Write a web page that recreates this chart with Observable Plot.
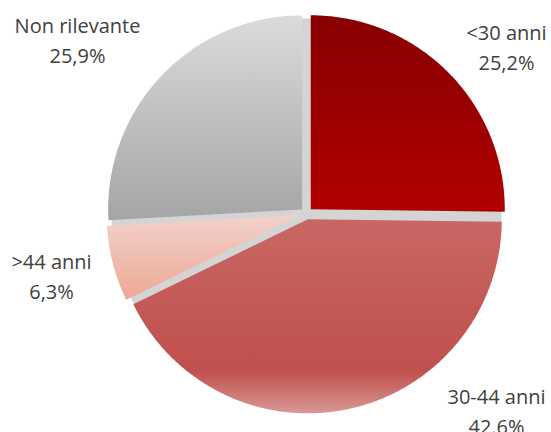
<!DOCTYPE html>
<html>
<head>
<meta charset="utf-8">
<script src="https://cdn.jsdelivr.net/npm/d3@7"></script>
<script src="https://cdn.jsdelivr.net/npm/@observablehq/plot@0.6"></script>
<style>
  html, body { margin: 0; padding: 0; background: #fff; overflow: hidden; }
</style>
</head>
<body>
<div id="chart"></div>
<script>
// ---- data ----
const categories = ["<30 anni", "30-44 anni", ">44 anni", "Non rilevante"];
const values = [25.2, 42.6, 6.3, 25.9];
const valueLabels = ["25,2%", "42.6%", "6,3%", "25,9%"];

// ---- layout / style ----
const W = 551, H = 432;
const cx = 306, cy = 213, R = 194;
const explode = 6 / R;
const fontSize = 20;
const lineGap = 30;
// label anchor points (pixel: center x, baseline of first line)
const labelPos = [[506, 39], [496, 403], [51, 268], [77, 32]];
const gradients = [
  [[0, "#870000"], [1, "#b20000"]],
  [[0, "#c96764"], [0.78, "#bf504d"], [1, "#da9896"]],
  [[0, "#f2d1cc"], [1, "#eda893"]],
  [[0, "#dbdbdb"], [1, "#a5a5a5"]]
];

const arcs = d3.pie().sort(null).startAngle(0).endAngle(2 * Math.PI)(values);

const slicePoints = arcs.map((a, i) => {
  const m = (a.startAngle + a.endAngle) / 2;
  const ox = explode * Math.sin(m), oy = explode * Math.cos(m);
  const pts = [{x: ox, y: oy, s: i}];
  const n = Math.max(8, Math.ceil((a.endAngle - a.startAngle) / (Math.PI / 360)));
  for (let k = 0; k <= n; k++) {
    const t = a.startAngle + (a.endAngle - a.startAngle) * k / n;
    pts.push({x: ox + Math.sin(t), y: oy + Math.cos(t), s: i});
  }
  pts.push({x: ox, y: oy, s: i});
  return pts;
});

const toX = px => (px - cx) / R;
const toY = py => (cy - py) / R;
const labels = categories.map((c, i) => ({
  cat: c, val: valueLabels[i],
  x: toX(labelPos[i][0]),
  y1: toY(labelPos[i][1] - 0.32 * fontSize),
  y2: toY(labelPos[i][1] + lineGap - 0.32 * fontSize)
}));

const chart = Plot.plot({
  width: W, height: H,
  margin: 0,
  x: {domain: [-1, 1], range: [cx - R, cx + R], axis: null},
  y: {domain: [-1, 1], range: [cy + R, cy - R], axis: null},
  style: {background: "#fff", overflow: "visible"},
  marks: [
    Plot.dot([{x: 0, y: 0}], {x: "x", y: "y", r: R + 1, fill: "#000", fillOpacity: 0.17, stroke: "none", ariaLabel: "shadow"}),
    ...slicePoints.map((pts, i) =>
      Plot.line(pts, {x: "x", y: "y", fill: `url(#grad${i})`, stroke: "none", curve: "linear"})
    ),
    Plot.text(labels, {x: "x", y: "y1", text: "cat", fontSize, fill: "#404040", fontFamily: "'Open Sans', sans-serif", textAnchor: "middle"}),
    Plot.text(labels, {x: "x", y: "y2", text: "val", fontSize, fill: "#404040", fontFamily: "'Open Sans', sans-serif", textAnchor: "middle"})
  ]
});

const svg = d3.select(chart);
const defs = svg.insert("defs", ":first-child");
gradients.forEach((stops, i) => {
  const g = defs.append("linearGradient").attr("id", `grad${i}`)
    .attr("x1", 0).attr("y1", 0).attr("x2", 0).attr("y2", 1);
  stops.forEach(([o, c]) => g.append("stop").attr("offset", o).attr("stop-color", c));
});
const f = defs.append("filter").attr("id", "blur")
  .attr("x", "-30%").attr("y", "-30%").attr("width", "160%").attr("height", "160%");
f.append("feGaussianBlur").attr("stdDeviation", 7);
svg.selectAll("g[aria-label='shadow']").attr("filter", "url(#blur)");

document.getElementById("chart").appendChild(chart);
</script>
</body>
</html>
